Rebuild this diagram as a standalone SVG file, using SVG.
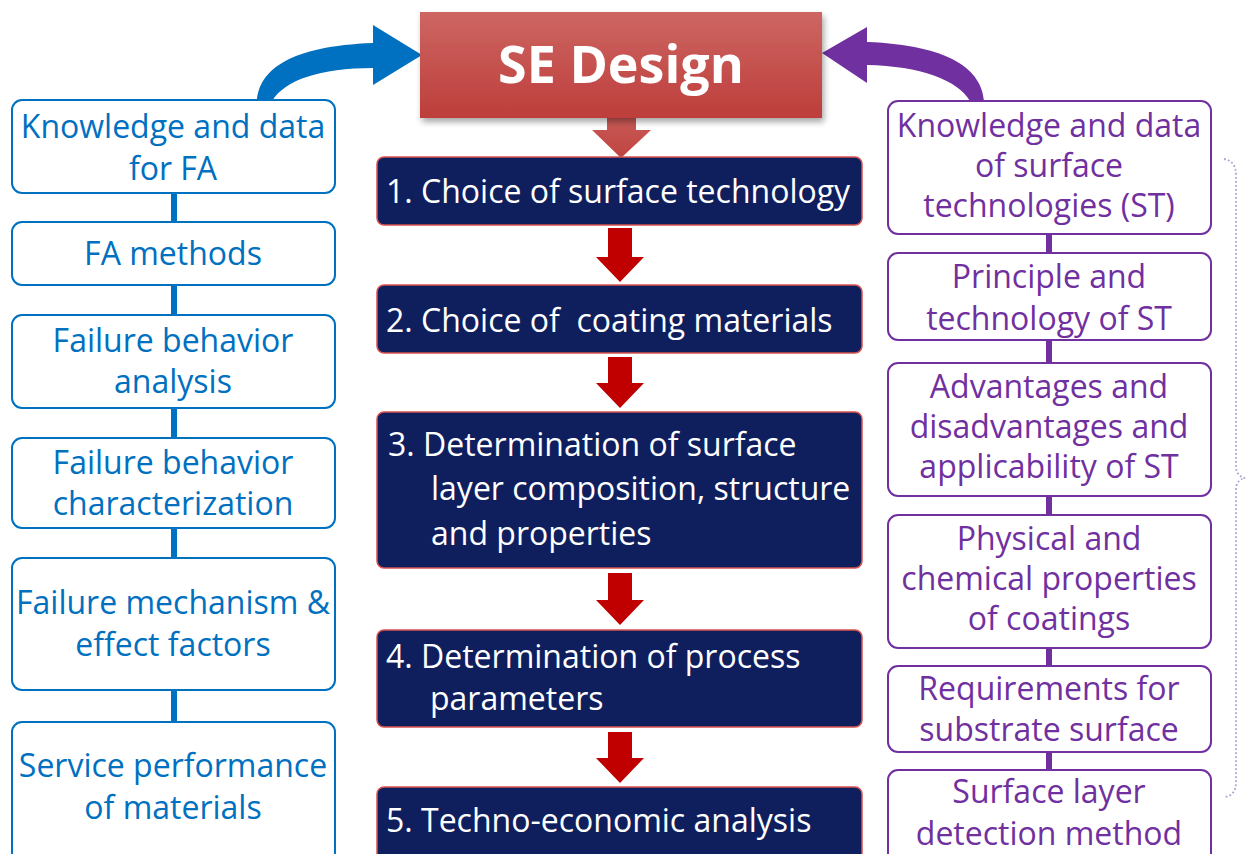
<svg xmlns="http://www.w3.org/2000/svg" width="1247" height="854" viewBox="0 0 1247 854">
  <defs>
    <linearGradient id="redTitle" x1="0" y1="0" x2="0" y2="1">
      <stop offset="0" stop-color="#cd6662"/>
      <stop offset="1" stop-color="#bd3e3b"/>
    </linearGradient>
    <linearGradient id="redDrop" x1="0" y1="0" x2="0" y2="1">
      <stop offset="0" stop-color="#c85a56"/>
      <stop offset="1" stop-color="#bf4340"/>
    </linearGradient>
    <filter id="shadow" x="-10%" y="-10%" width="125%" height="135%">
      <feGaussianBlur in="SourceAlpha" stdDeviation="3"/>
      <feOffset dx="2" dy="4" result="b"/>
      <feComponentTransfer><feFuncA type="linear" slope="0.35"/></feComponentTransfer>
      <feMerge><feMergeNode/><feMergeNode in="SourceGraphic"/></feMerge>
    </filter>
  </defs>
  <style>
    .t { font-family: "Open Sans", Lato, sans-serif; }
    .fa rect { fill: #ffffff; stroke: #0070c0; stroke-width: 2; }
    .fa text { fill: #0070c0; font-size: 32px; text-anchor: middle; }
    .st rect { fill: #ffffff; stroke: #7030a0; stroke-width: 2; }
    .st text { fill: #7030a0; font-size: 32px; text-anchor: middle; }
    .step rect { fill: #0f1f5e; stroke: #d9534f; stroke-width: 1.5; }
    .step text { fill: #ffffff; font-size: 32px; white-space: pre; }
    .down { fill: #c00000; }
  </style>

  <rect width="1247" height="854" fill="#ffffff"/>

  <!-- connectors -->
  <g id="connectors">
    <!-- left column spine -->
    <line x1="174" y1="193" x2="174" y2="722" stroke="#0070c0" stroke-width="6"/>
    <!-- right column spine -->
    <line x1="1049" y1="234" x2="1049" y2="770" stroke="#7030a0" stroke-width="6"/>
    <!-- curved arrow from FA knowledge into SE Design -->
    <path d="M257,101 C259,70 290,46 373,43 L373,25 L422,55 L373,85 L373,68 C320,68 285,80 272,101 Z" fill="#0070c0"/>
    <!-- curved arrow from ST knowledge into SE Design -->
    <path d="M984,101 C982,70 950,45 867,42 L867,27 L822,53 L867,83 L867,65 C920,66 958,80 970,101 Z" fill="#7030a0"/>
    <!-- SE Design down arrow -->
    <path d="M607,118 L636,118 L636,130 L651,130 L621,158 L592,130 L607,130 Z" fill="url(#redDrop)"/>
    <!-- step arrows -->
    <path class="down" d="M608,228 L632,228 L632,257 L644,257 L620,282 L596,257 L608,257 Z"/>
    <path class="down" d="M608,357 L632,357 L632,383 L644,383 L620,408 L596,383 L608,383 Z"/>
    <path class="down" d="M608,573 L632,573 L632,600 L644,600 L620,625 L596,600 L608,600 Z"/>
    <path class="down" d="M608,732 L632,732 L632,758 L644,758 L620,783 L596,758 L608,758 Z"/>
    <!-- dotted brace grouping the ST column -->
    <path d="M1224,159 Q1236,161 1236,175 L1236,466 Q1236,476 1245,478 Q1236,480 1236,490 L1236,782 Q1236,796 1224,797" fill="none" stroke="#b0a0d0" stroke-width="1.8" stroke-dasharray="1.8,2.2"/>
  </g>

  <!-- title -->
  <g id="se-design" class="t">
    <rect x="420" y="12" width="402" height="106" fill="url(#redTitle)" filter="url(#shadow)"/>
    <text x="621" y="83" fill="#ffffff" font-size="52" font-weight="bold" text-anchor="middle">SE Design</text>
  </g>

  <!-- failure analysis column -->
  <g id="fa-knowledge" class="t fa">
    <rect x="12" y="100" width="323" height="93" rx="10"/>
    <text x="173" y="138">Knowledge and data</text>
    <text x="173" y="180">for FA</text>
  </g>
  <g id="fa-methods" class="t fa">
    <rect x="12" y="222" width="323" height="63" rx="10"/>
    <text x="173" y="265">FA methods</text>
  </g>
  <g id="fa-behavior-analysis" class="t fa">
    <rect x="12" y="315" width="323" height="93" rx="10"/>
    <text x="173" y="352">Failure behavior</text>
    <text x="173" y="393">analysis</text>
  </g>
  <g id="fa-behavior-char" class="t fa">
    <rect x="12" y="438" width="323" height="90" rx="10"/>
    <text x="173" y="474">Failure behavior</text>
    <text x="173" y="515">characterization</text>
  </g>
  <g id="fa-mechanism" class="t fa">
    <rect x="12" y="558" width="323" height="132" rx="10"/>
    <text x="173" y="614">Failure mechanism &amp;</text>
    <text x="173" y="656">effect factors</text>
  </g>
  <g id="fa-service" class="t fa">
    <rect x="12" y="722" width="323" height="140" rx="10"/>
    <text x="173" y="777">Service performance</text>
    <text x="173" y="819">of materials</text>
  </g>

  <!-- design steps -->
  <g id="step1" class="t step">
    <rect x="377" y="157" width="485" height="68" rx="7"/>
    <text x="386" y="203">1. Choice of surface technology</text>
  </g>
  <g id="step2" class="t step">
    <rect x="377" y="285" width="485" height="68" rx="7"/>
    <text x="386" y="332" xml:space="preserve">2. Choice of  coating materials</text>
  </g>
  <g id="step3" class="t step">
    <rect x="377" y="412" width="485" height="156" rx="7"/>
    <text x="388" y="456">3. Determination of surface</text>
    <text x="431" y="500">layer composition, structure</text>
    <text x="431" y="545">and properties</text>
  </g>
  <g id="step4" class="t step">
    <rect x="377" y="630" width="485" height="97" rx="7"/>
    <text x="386" y="668">4. Determination of process</text>
    <text x="430" y="710">parameters</text>
  </g>
  <g id="step5" class="t step">
    <rect x="377" y="787" width="485" height="80" rx="7"/>
    <text x="386" y="832">5. Techno-economic analysis</text>
  </g>

  <!-- surface technology column -->
  <g id="st-knowledge" class="t st">
    <rect x="888" y="101" width="323" height="133" rx="10"/>
    <text x="1049" y="137">Knowledge and data</text>
    <text x="1049" y="177">of surface</text>
    <text x="1049" y="217">technologies (ST)</text>
  </g>
  <g id="st-principle" class="t st">
    <rect x="888" y="253" width="323" height="87" rx="10"/>
    <text x="1049" y="288">Principle and</text>
    <text x="1049" y="330">technology of ST</text>
  </g>
  <g id="st-advantages" class="t st">
    <rect x="888" y="363" width="323" height="133" rx="10"/>
    <text x="1049" y="398">Advantages and</text>
    <text x="1049" y="438">disadvantages and</text>
    <text x="1049" y="478">applicability of ST</text>
  </g>
  <g id="st-properties" class="t st">
    <rect x="888" y="515" width="323" height="133" rx="10"/>
    <text x="1049" y="550">Physical and</text>
    <text x="1049" y="590">chemical properties</text>
    <text x="1049" y="630">of coatings</text>
  </g>
  <g id="st-substrate" class="t st">
    <rect x="888" y="666" width="323" height="86" rx="10"/>
    <text x="1049" y="700">Requirements for</text>
    <text x="1049" y="741">substrate surface</text>
  </g>
  <g id="st-detection" class="t st">
    <rect x="888" y="770" width="323" height="100" rx="10"/>
    <text x="1049" y="803">Surface layer</text>
    <text x="1049" y="845">detection method</text>
  </g>
</svg>
